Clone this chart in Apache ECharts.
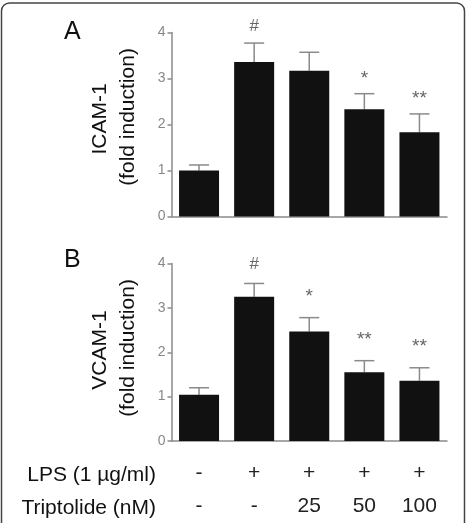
<!DOCTYPE html>
<html><head><meta charset="utf-8">
<script src="https://cdn.jsdelivr.net/npm/echarts@6/dist/echarts.min.js"></script>
<style>html,body{margin:0;padding:0;background:#fff}#c{width:467px;height:523px}</style>
</head><body><div id="c"></div>
<script>
var categories = ['g1','g2','g3','g4','g5'];
var lpsLabels = ['-','+','+','+','+'];
var tripLabels = ['-','-','25','50','100'];
var icamMean = [1.0, 3.36, 3.17, 2.33, 1.83];
var icamErr  = [0.12, 0.41, 0.40, 0.34, 0.40];
var icamSig  = ['', '#', '', '*', '**'];
var vcamMean = [1.04, 3.25, 2.47, 1.55, 1.36];
var vcamErr  = [0.16, 0.30, 0.31, 0.26, 0.29];
var vcamSig  = ['', '#', '*', '**', '**'];
var yTicks = [0,1,2,3,4];

var FONT = '"Liberation Sans", Arial, sans-serif';
var chart = echarts.init(document.getElementById('c'));

function errSeries(idx, mean, err, sig, hashGap, starGap){
  return {
    type:'custom', xAxisIndex:idx, yAxisIndex:idx, z:1,
    data: mean.map(function(m,i){return [i, m, m+err[i], sig[i]];}),
    renderItem:function(params, api){
      var base = api.coord([api.value(0), api.value(1)]);
      var top = api.coord([api.value(0), api.value(2)]);
      var hw = 10;
      var s = api.value(3);
      var children = [
        {type:'line', shape:{x1:base[0],y1:base[1],x2:top[0],y2:top[1]}, style:{stroke:'#8a8a8a',lineWidth:1.5}},
        {type:'line', shape:{x1:top[0]-hw,y1:top[1],x2:top[0]+hw,y2:top[1]}, style:{stroke:'#8a8a8a',lineWidth:1.5}}
      ];
      if (s) {
        var y = s==='#' ? top[1]-hashGap : top[1]-starGap+4;
        children.push({type:'text', style:{text:s, x:top[0], y:y, align:'center', verticalAlign:'middle', fill:'#666', font:(s==='#'?'17px ':'19px ')+FONT}});
      }
      return {type:'group', children:children};
    }
  };
}

function yAxisCfg(idx){
  return {
    gridIndex:idx, type:'value', min:0, max:4, interval:1,
    axisLine:{show:true, lineStyle:{color:'#8a8a8a', width:1.5}},
    axisTick:{show:true, length:4, lineStyle:{color:'#8a8a8a', width:1.5}},
    axisLabel:{color:'#888', fontSize:14, fontFamily:'Liberation Sans', margin:6, formatter:function(v){return yTicks.indexOf(v)>=0?String(v):'';}},
    splitLine:{show:false}
  };
}

chart.setOption({
  animation:false,
  backgroundColor:'#fff',
  grid:[
    {left:171.5, right:20, top:32.5, height:184},
    {left:171.5, right:20, top:263.5, height:184}
  ],
  xAxis:[
    {gridIndex:0, type:'category', data:categories,
     axisLine:{lineStyle:{color:'#8a8a8a', width:1.5}}, axisTick:{show:false}, axisLabel:{show:false}},
    {gridIndex:1, type:'category', data:categories,
     axisLine:{lineStyle:{color:'#8a8a8a', width:1.5}}, axisTick:{show:false},
     axisLabel:{show:true, color:'#222', fontSize:21, fontFamily:'Liberation Sans', margin:16, lineHeight:33,
       formatter:function(v, i){return lpsLabels[i] + '\n' + tripLabels[i];}}}
  ],
  yAxis:[yAxisCfg(0), yAxisCfg(1)],
  series:[
    {type:'bar', xAxisIndex:0, yAxisIndex:0, data:icamMean, barWidth:40, itemStyle:{color:'#111'}, z:2},
    errSeries(0, icamMean, icamErr, icamSig, 17, 19),
    {type:'bar', xAxisIndex:1, yAxisIndex:1, data:vcamMean, barWidth:40, itemStyle:{color:'#111'}, z:2},
    errSeries(1, vcamMean, vcamErr, vcamSig, 19, 25)
  ],
  graphic:[
    {type:'rect', shape:{x:1.5, y:3, width:463, height:540, r:8}, style:{fill:'none', stroke:'#444', lineWidth:1.5}, silent:true},
    {type:'text', left:64, top:20, style:{text:'A', font:'25px '+FONT, fill:'#111'}},
    {type:'text', left:64, top:248, style:{text:'B', font:'25px '+FONT, fill:'#111'}},
    {type:'text', x:100, y:119, rotation:Math.PI/2, style:{text:'ICAM-1', font:'21px '+FONT, fill:'#111', align:'center', verticalAlign:'middle'}},
    {type:'text', x:128, y:117, rotation:Math.PI/2, style:{text:'(fold induction)', font:'21px '+FONT, fill:'#111', align:'center', verticalAlign:'middle'}},
    {type:'text', x:100, y:350, rotation:Math.PI/2, style:{text:'VCAM-1', font:'21px '+FONT, fill:'#111', align:'center', verticalAlign:'middle'}},
    {type:'text', x:128, y:348, rotation:Math.PI/2, style:{text:'(fold induction)', font:'21px '+FONT, fill:'#111', align:'center', verticalAlign:'middle'}},
    {type:'text', x:156, y:475, style:{text:'LPS (1 µg/ml)', font:'21px '+FONT, fill:'#111', align:'right', verticalAlign:'middle'}},
    {type:'text', x:156, y:508, style:{text:'Triptolide (nM)', font:'21px '+FONT, fill:'#111', align:'right', verticalAlign:'middle'}}
  ]
});
</script></body></html>
